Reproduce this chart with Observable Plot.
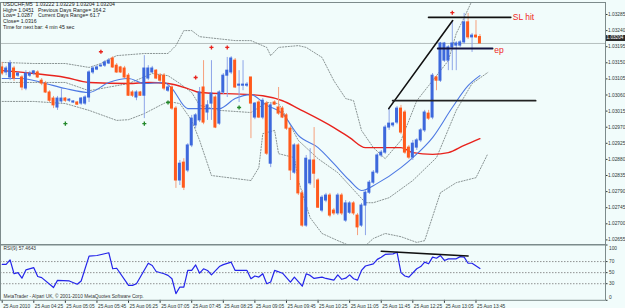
<!DOCTYPE html>
<html><head><meta charset="utf-8">
<script src="https://cdn.jsdelivr.net/npm/d3@7"></script>
<script src="https://cdn.jsdelivr.net/npm/@observablehq/plot@0.6"></script>
<style>
body{margin:0;background:#fff;}
#wrap{position:relative;width:625px;height:308px;background:#F1FCFB;overflow:hidden;font-family:"Liberation Sans",Arial,sans-serif;}
#wrap svg{position:absolute;left:0;}
.hdr{position:absolute;font-size:5.2px;line-height:6px;color:#222;white-space:pre;}
#pbox{position:absolute;background:#2b2b2b;color:#fff;font-size:4.7px;line-height:6.5px;height:6.5px;padding-left:1px;}
</style></head><body><div id="wrap"></div>
<script>
// ---- OHLC (5-minute bars, USDCHF) ----
const open = [1.03137,1.03123,1.03109,1.03134,1.03114,1.03109,1.03078,1.03114,1.03120,1.03123,
1.03100,1.03092,1.03067,1.03050,1.03025,1.03042,1.03050,1.03044,1.03039,1.03039,
1.03036,1.03036,1.03053,1.03123,1.03131,1.03140,1.03142,1.03148,1.03162,1.03142,
1.03137,1.03134,1.03114,1.03067,1.03053,1.03067,1.03058,1.03106,1.03123,1.03128,
1.03114,1.03114,1.03072,1.03081,1.03022,1.02821,1.02871,1.02849,1.02919,1.02975,
1.02989,1.03081,1.03011,1.03036,1.03053,1.02980,1.03067,1.03114,1.03123,1.03156,
1.03086,1.03086,1.03086,1.03109,1.02997,1.03039,1.02997,1.03036,1.02868,1.03039,
1.03025,1.03022,1.03003,1.02966,1.02843,1.02919,1.02785,1.02695,1.02813,1.02877,
1.02821,1.02737,1.02765,1.02779,1.02737,1.02729,1.02779,1.02709,1.02731,1.02757,
1.02723,1.02695,1.02751,1.02787,1.02815,1.02843,1.02891,1.02899,1.02969,1.02975,
1.02983,1.03022,1.03011,1.02913,1.02885,1.02913,1.02933,1.02961,1.03008,1.02997,
1.03109,1.03100,1.03156,1.03156,1.03193,1.03198,1.03198,1.03207,1.03263,1.03221,
1.03226,1.03222];
const high = [1.03151,1.03140,1.03156,1.03140,1.03123,1.03114,1.03128,1.03126,1.03128,1.03128,
1.03106,1.03098,1.03072,1.03056,1.03056,1.03078,1.03053,1.03050,1.03044,1.03042,
1.03053,1.03058,1.03128,1.03140,1.03142,1.03148,1.03156,1.03162,1.03167,1.03148,
1.03140,1.03140,1.03120,1.03072,1.03072,1.03070,1.03170,1.03142,1.03140,1.03131,
1.03120,1.03120,1.03086,1.03086,1.03028,1.02877,1.02882,1.02924,1.03003,1.03008,
1.03081,1.03156,1.03044,1.03156,1.03058,1.03072,1.03120,1.03165,1.03167,1.03162,
1.03128,1.03156,1.03095,1.03109,1.03039,1.03044,1.03050,1.03042,1.03036,1.03044,
1.03081,1.03028,1.03008,1.02972,1.02924,1.02924,1.02793,1.02891,1.02910,1.02969,
1.02826,1.02779,1.02785,1.02785,1.02743,1.02785,1.02785,1.02765,1.02762,1.02762,
1.02729,1.02757,1.02793,1.02821,1.02849,1.02896,1.02905,1.02975,1.03022,1.02983,
1.03028,1.03031,1.03017,1.02919,1.02933,1.02938,1.02966,1.03017,1.03017,1.03120,
1.03114,1.03207,1.03207,1.03198,1.03268,1.03209,1.03212,1.03288,1.03288,1.03232,
1.03268,1.03229];
const low = [1.03114,1.03114,1.03100,1.03098,1.03109,1.03072,1.03072,1.03109,1.03114,1.03106,
1.03086,1.03064,1.03039,1.03022,1.03017,1.03036,1.03039,1.03039,1.03036,1.03031,
1.03031,1.03031,1.03039,1.03117,1.03128,1.03137,1.03137,1.03145,1.03134,1.03120,
1.03120,1.03106,1.03056,1.03053,1.03044,1.03056,1.02994,1.03100,1.03120,1.03103,
1.03095,1.03072,1.03067,1.03017,1.02799,1.02807,1.02793,1.02843,1.02913,1.02966,
1.02983,1.02977,1.02989,1.02989,1.02966,1.02975,1.03061,1.03053,1.03117,1.03078,
1.03039,1.03072,1.03081,1.02938,1.02991,1.02994,1.02991,1.02891,1.02857,1.03031,
1.03003,1.02994,1.02961,1.02821,1.02838,1.02779,1.02690,1.02690,1.02807,1.02799,
1.02743,1.02731,1.02759,1.02717,1.02723,1.02723,1.02723,1.02704,1.02726,1.02723,
1.02667,1.02690,1.02667,1.02782,1.02810,1.02838,1.02885,1.02894,1.02961,1.02969,
1.02977,1.02949,1.02894,1.02880,1.02877,1.02905,1.02927,1.02955,1.02989,1.02991,
1.03072,1.03095,1.03151,1.03128,1.03128,1.03128,1.03193,1.03201,1.03215,1.03179,
1.03218,1.03204];
const close = [1.03120,1.03134,1.03148,1.03106,1.03120,1.03081,1.03120,1.03120,1.03126,1.03109,
1.03092,1.03067,1.03044,1.03031,1.03050,1.03050,1.03044,1.03047,1.03042,1.03033,
1.03050,1.03053,1.03123,1.03134,1.03137,1.03142,1.03151,1.03156,1.03137,1.03123,
1.03123,1.03109,1.03058,1.03058,1.03067,1.03058,1.03134,1.03134,1.03134,1.03106,
1.03100,1.03078,1.03081,1.03022,1.02821,1.02868,1.02801,1.02919,1.02994,1.03003,
1.03067,1.02983,1.03031,1.03064,1.02969,1.03067,1.03114,1.03128,1.03162,1.03081,
1.03089,1.03089,1.03089,1.03036,1.03036,1.02997,1.03044,1.02896,1.03031,1.03033,
1.03008,1.02997,1.02966,1.02849,1.02919,1.02785,1.02695,1.02882,1.02877,1.02840,
1.02745,1.02773,1.02779,1.02723,1.02729,1.02779,1.02729,1.02757,1.02757,1.02729,
1.02690,1.02751,1.02787,1.02815,1.02843,1.02891,1.02899,1.02969,1.02980,1.02980,
1.03022,1.02955,1.02899,1.02885,1.02924,1.02933,1.02961,1.03011,1.02994,1.03114,
1.03100,1.03204,1.03204,1.03193,1.03204,1.03204,1.03207,1.03263,1.03221,1.03226,
1.03221,1.03204];
const lastPrice = 1.03204;

// ---- indicator lines (bar index, value) ----
const maRedBars = [0,8,16,22,32,37,42,47,50,63,66,71,75,84,88,92,101,104,109,113,117,121];
const maRedVals = [1.03128,1.03120,1.03109,1.03095,1.03092,1.03095,1.03092,1.03078,1.03067,1.03061,1.03058,1.03044,1.03022,1.02969,1.02941,1.02913,1.02913,1.02899,1.02894,1.02899,1.02919,1.02938];
const maBlueBars = [0,5,10,16,22,27,32,36,41,43,47,50,55,59,63,67,71,75,80,84,88,91,95,101,104,109,114,118,121];
const maBlueVals = [1.03106,1.03106,1.03095,1.03078,1.03067,1.03095,1.03106,1.03092,1.03095,1.03078,1.03022,1.03022,1.03022,1.03050,1.03061,1.03031,1.03008,1.02947,1.02913,1.02868,1.02821,1.02793,1.02813,1.02857,1.02885,1.02941,1.03025,1.03086,1.03114];
const bbUpperBars = [0,8,16,22,25,29,36,42,44,46,48,50,59,63,67,68,70,75,77,81,84,87,89,91,94,97,101,105,108,113,115,117,119,123];
const bbUpperVals = [1.03151,1.03148,1.03148,1.03137,1.03148,1.03170,1.03176,1.03176,1.03198,1.03240,1.03240,1.03223,1.03212,1.03212,1.03193,1.03170,1.03193,1.03198,1.03193,1.03165,1.03100,1.03050,1.03044,1.02961,1.02913,1.02882,1.02933,1.03044,1.03086,1.03156,1.03232,1.03276,1.03324,1.03408];
const bbMiddleBars = [0,5,16,22,32,38,42,45,48,50,55,63,67,70,71,75,80,85,92,94,98,104,110,115,119,123];
const bbMiddleVals = [1.03095,1.03095,1.03095,1.03072,1.03092,1.03120,1.03114,1.03092,1.03067,1.03031,1.03017,1.03011,1.03039,1.03036,1.03017,1.02933,1.02882,1.02843,1.02759,1.02759,1.02773,1.02821,1.02885,1.03017,1.03092,1.03123];
const bbLowerBars = [0,8,16,22,29,32,36,40,42,45,48,50,53,63,65,66,69,70,74,75,78,81,85,88,92,94,97,101,105,107,111,115,120,123];
const bbLowerVals = [1.03042,1.03042,1.03036,1.03017,1.02989,1.02991,1.03008,1.03031,1.03042,1.03036,1.02989,1.02933,1.02835,1.02821,1.02857,1.02952,1.02961,1.02896,1.02885,1.02821,1.02717,1.02673,1.02653,1.02639,1.02639,1.02659,1.02673,1.02664,1.02648,1.02653,1.02787,1.02815,1.02829,1.02896];

// fractal arrows
const fracUpBars = [25,49,53,57,114];
const fracUpVals = [1.03181,1.03109,1.03193,1.03193,1.03290];
const fracDnBars = [16,36,42,60];
const fracDnVals = [1.02980,1.02980,1.03039,1.03025];

// hand-drawn annotations
const slBars = [108,128.8], slVals = [1.03277,1.03277];
const diagBars = [97.9,114.1], diagVals = [1.03022,1.03268];
const levelBars = [98.9,135.1], levelVals = [1.03044,1.03044];
const epBars = [110.3,124.2], epVals = [1.03190,1.03190];
const noteTexts = ["SL hit","ep"], noteBars = [129.3,124.6], noteVals = [1.03277,1.03186];

// RSI(9)
const rsiBars = [0,1,2,3,4,5,6,8,9,10,13,14,17,19,20,22,24,27,28,29,32,33,34,37,38,39,41,42,43,44,45,46,47,48,49,50,51,52,53,55,56,58,59,62,63,64,65,66,67,68,69,71,73,74,76,77,78,79,81,82,84,85,86,87,88,89,90,91,92,94,95,96,97,99,100,101,102,103,105,106,107,108,109,110,111,112,113,115,116,117,118,119,121];
const rsiVals = [65,65,73,48,50,40,55,59,43,41,23,36,35,29,35,80,81,86,57,58,27,27,30,67,63,52,48,45,39,12,24,24,54,54,64,49,57,54,46,61,64.5,69,54,54,39,44,42,48,30,33,54,49,33,42,25.5,48,45,39.5,42,39.5,36.5,46,38,40,46,39,36.5,54,62,66,74,78,83,84,87,50,44,42,57,61,69,66,78,76,81,72,75,75,79,78,67,67,57.46];
const rsiDivBars = [96,118], rsiDivVals = [88.7,80];
const rsiLevels = [30,50,70];
const rsiTicks = [0,30,50,70,100];

// axes
const priceTicks = [1.02655,1.02700,1.02745,1.02790,1.02835,1.02880,1.02925,1.02970,1.03015,1.03060,1.03105,1.03150,1.03195,1.03240,1.03285];
const timeBars = [0,8,16,24,32,40,48,56,64,72,80,88,96,104,112,120];
const timeLabels = ["25 Aug 2010","25 Aug 04:25","25 Aug 05:05","25 Aug 05:45","25 Aug 06:25","25 Aug 07:05","25 Aug 07:45","25 Aug 08:25","25 Aug 09:05","25 Aug 09:45","25 Aug 10:25","25 Aug 11:05","25 Aug 11:45","25 Aug 12:25","25 Aug 13:05","25 Aug 13:45"];
const headerLeft = ["USDCHF,M5  1.03222 1.03229 1.03204 1.03204","High= 1.0451","Low= 1.0287","Close= 1.0316","Time for next bar: 4 min 45 sec"];
const headerRight = ["","Previous Days Range= 164.2","Current Days Range= 61.7","",""];

// ---------- build ----------
const wrap = document.getElementById("wrap");
const xDom = [-0.43, 152.8];
const rows = open.map((o,i)=>({i, o, h: high[i], l: low[i], c: close[i]}));
const ups = rows.filter(d => d.c >= d.o), downs = rows.filter(d => d.c < d.o);
const pts = (bs, vs) => bs.map((b,k)=>({b, v: vs[k]}));
const st = {background:"transparent", fontFamily:"Liberation Sans, Arial, sans-serif", fontSize:"4.8px", color:"#2f3838"};
const bandStyle = {x:"b", y:"v", stroke:"#6f7878", strokeWidth:0.8, strokeDasharray:"1.2,1.6", clip:true};

const main = Plot.plot({
  width: 625, height: 245, marginLeft: 0, marginRight: 20, marginTop: 2, marginBottom: 1,
  x: {domain: xDom, axis: null},
  y: {domain: [1.026422, 1.033185], axis: "right", ticks: priceTicks, tickFormat: d => d.toFixed(5), tickSize: 1.5, tickPadding: 1, label: null},
  style: st,
  marks: [
    Plot.ruleY([lastPrice], {stroke:"#a6aeae", strokeWidth:0.8}),
    Plot.line(pts(bbUpperBars,bbUpperVals), bandStyle),
    Plot.line(pts(bbMiddleBars,bbMiddleVals), bandStyle),
    Plot.line(pts(bbLowerBars,bbLowerVals), bandStyle),
    Plot.line(pts(maRedBars,maRedVals), {x:"b", y:"v", stroke:"#e8231d", strokeWidth:1.4, curve:"monotone-x"}),
    Plot.line(pts(maBlueBars,maBlueVals), {x:"b", y:"v", stroke:"#4d79e3", strokeWidth:1.1, curve:"monotone-x"}),
    Plot.ruleX(ups, {x:"i", y1:"l", y2:"h", stroke:"#8ea5e8", strokeWidth:1}),
    Plot.ruleX(downs, {x:"i", y1:"l", y2:"h", stroke:"#f6a07c", strokeWidth:1}),
    Plot.rect(ups, {x1: d=>d.i-0.38, x2: d=>d.i+0.38, y1:"o", y2:"c", fill:"#3d68dc", insetTop:-0.5, insetBottom:-0.5}),
    Plot.rect(downs, {x1: d=>d.i-0.38, x2: d=>d.i+0.38, y1:"o", y2:"c", fill:"#ff5a1c", insetTop:-0.5, insetBottom:-0.5}),
    Plot.line(pts(slBars,slVals), {x:"b", y:"v", stroke:"#111", strokeWidth:1.8}),
    Plot.line(pts(diagBars,diagVals), {x:"b", y:"v", stroke:"#111", strokeWidth:1.6}),
    Plot.line(pts(levelBars,levelVals), {x:"b", y:"v", stroke:"#222", strokeWidth:1.8}),
    Plot.line(pts(epBars,epVals), {x:"b", y:"v", stroke:"#151540", strokeWidth:1.8}),
    Plot.dot(pts(fracUpBars,fracUpVals), {x:"b", y:"v", symbol:"cross", r:1.7, fill:"#e8231d"}),
    Plot.dot(pts(fracDnBars,fracDnVals), {x:"b", y:"v", symbol:"cross", r:1.7, fill:"#23892b"}),
    Plot.text(noteTexts.map((t,k)=>({t, b:noteBars[k], v:noteVals[k]})), {x:"b", y:"v", text:"t", fill:"#f0281e", fontSize:8.5, textAnchor:"start"}),
    Plot.frame({stroke:"#7d8b8b"})
  ]
});
main.style.top = "0px";
wrap.appendChild(main);

const rsi = Plot.plot({
  width: 625, height: 72, marginLeft: 0, marginRight: 20, marginTop: 8.5, marginBottom: 8.2,
  x: {domain: xDom, axis: "bottom", ticks: timeBars, tickFormat: d => timeLabels[timeBars.indexOf(d)], tickSize: 3, tickPadding: 1, label: null},
  y: {domain: [0, 100], axis: "right", ticks: rsiTicks, tickSize: 1.5, tickPadding: 2, label: null},
  style: st,
  marks: [
    Plot.ruleY(rsiLevels, {stroke:"#777", strokeWidth:0.8, strokeDasharray:"1.5,1.5"}),
    Plot.line(pts(rsiBars,rsiVals), {x:"b", y:"v", stroke:"#2424ea", strokeWidth:1.2}),
    Plot.line(pts(rsiDivBars,rsiDivVals), {x:"b", y:"v", stroke:"#111", strokeWidth:1.6}),
    Plot.text(["RSI(9) 57.4643"], {frameAnchor:"top-left", dx:3, dy:2, lineAnchor:"top", textAnchor:"start", fill:"#333"}),
    Plot.text(["MetaTrader - Alpari UK, © 2001-2010 MetaQuotes Software Corp."], {frameAnchor:"bottom-left", dx:3, dy:-2, lineAnchor:"bottom", textAnchor:"start", fill:"#333"}),
    Plot.frame({stroke:"#7d8b8b"})
  ]
});
rsi.style.top = "236px";
wrap.appendChild(rsi);
d3.select(rsi).selectAll('[aria-label^="x-axis"] text').attr("text-anchor","start").attr("dx","1");
d3.select(rsi).selectAll('[aria-label^="y-axis"] text').each(function(){
  const t = this.textContent.trim();
  if (t === "100") d3.select(this).attr("transform", (this.getAttribute("transform")||"") + " translate(0,3)");
  if (t === "0") d3.select(this).attr("transform", (this.getAttribute("transform")||"") + " translate(0,-3)");
});

// header text
headerLeft.forEach((t,k)=>{
  const d = document.createElement("div"); d.className="hdr";
  d.style.left="3px"; d.style.top=(1+k*5.6+(k===4?1:0))+"px"; d.textContent=t; wrap.appendChild(d);
  if (headerRight[k]) { const e=document.createElement("div"); e.className="hdr"; e.style.left="38px"; e.style.top=(1+k*5.6)+"px"; e.textContent=headerRight[k]; wrap.appendChild(e); }
});
// last-price box on the price axis (sits just above the price line, as in the terminal)
const py = main.scale("y").apply(lastPrice);
const box = document.createElement("div"); box.id="pbox";
box.style.left="605.5px"; box.style.top=(py-8)+"px"; box.style.width="18.5px";
box.textContent = lastPrice.toFixed(5); wrap.appendChild(box);
</script></body></html>
